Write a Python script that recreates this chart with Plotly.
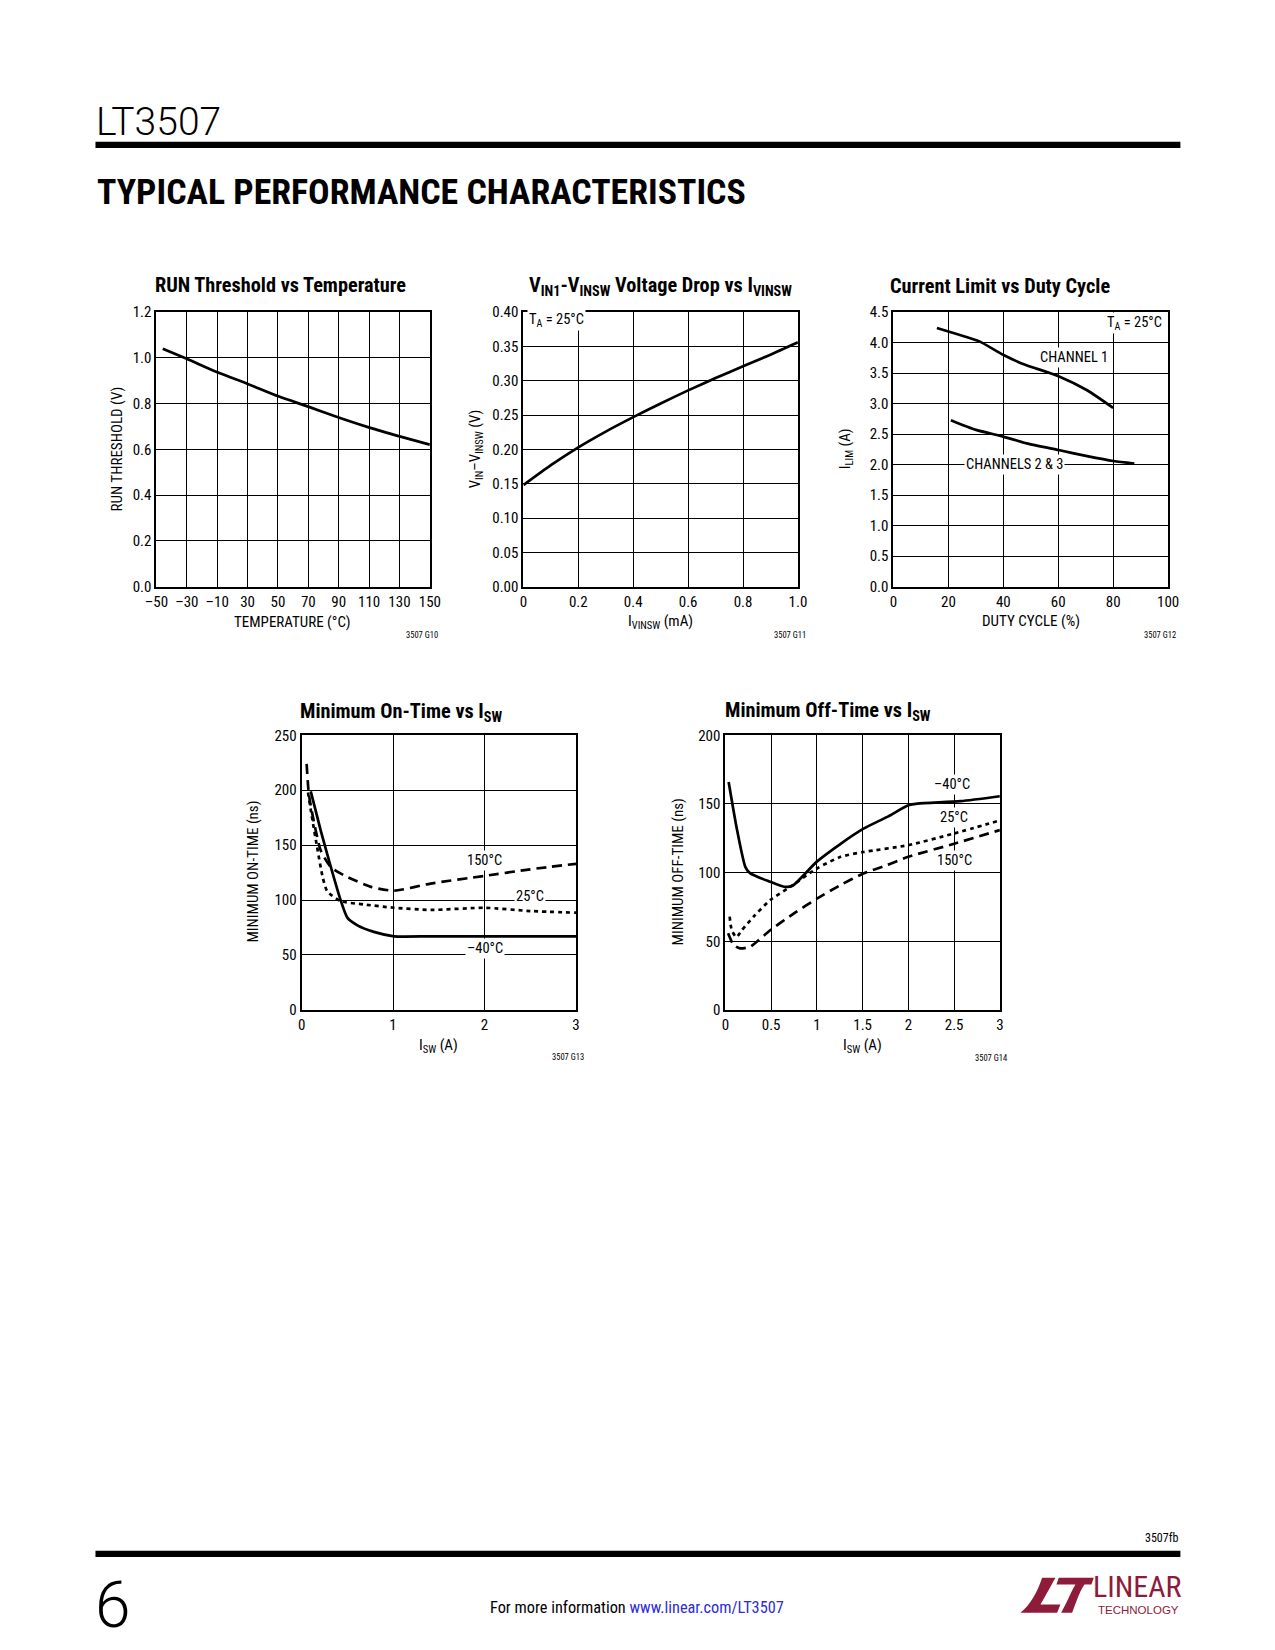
import plotly.graph_objects as go

W, H = 1275, 1650
FONT = "Roboto Condensed, Liberation Sans Narrow, DejaVu Sans Condensed, sans-serif"
RED = "#8E1B3A"

# the photographed page shows the figure slightly inset/scaled; compensate
AX, BX = 0.9823, 11.2
AY, BY = 0.9888, 8.4

def px(x):
    return ((x - BX) / AX) / W

def py(y):
    return 1 - ((y - BY) / AY) / H

# ---------------- data ----------------
# Chart 1: RUN threshold vs temperature
run_temp_labels = ["–50", "–30", "–10", "30", "50", "70", "90", "110", "130", "150"]
run_temp_x = [-45.4, -27.8, -5.4, 16.8, 39.2, 61.0, 83.8, 106.4, 128.6, 150.0]
run_thresh_v = [1.04, 0.996, 0.937, 0.886, 0.832, 0.787, 0.738, 0.694, 0.656, 0.621]

# Chart 2: VIN1-VINSW drop vs IVINSW
ivinsw_ma = [0.0, 0.1, 0.2, 0.3, 0.4, 0.5, 0.6, 0.7, 0.8, 0.9, 1.0]
vdrop_v = [0.148, 0.177, 0.203, 0.226, 0.247, 0.267, 0.286, 0.304, 0.321, 0.338, 0.356]

# Chart 3: current limit vs duty cycle
duty_ch1 = [15.8, 23.0, 31.3, 39.9, 47.2, 60.1, 70.5, 80.0]
ilim_ch1 = [4.24, 4.14, 4.02, 3.80, 3.65, 3.45, 3.22, 2.93]
duty_ch23 = [20.9, 30.1, 39.9, 48.5, 60.1, 70.5, 80.1, 87.7]
ilim_ch23 = [2.73, 2.57, 2.46, 2.35, 2.24, 2.14, 2.06, 2.02]

# Chart 4: minimum on-time vs ISW
on_isw_m40 = [0.10, 0.21, 0.32, 0.43, 0.50, 0.61, 0.79, 1.01, 1.41, 2.0, 3.0]
on_t_m40 = [199, 163, 130, 99, 84, 77, 71, 67, 67, 67, 67]
on_isw_25 = [0.07, 0.12, 0.17, 0.23, 0.28, 0.43, 0.68, 1.01, 1.41, 2.0, 2.5, 3.0]
on_t_25 = [198, 172, 148, 121, 108, 99, 96, 93, 91, 93, 90, 88.5]
on_isw_150 = [0.055, 0.08, 0.14, 0.21, 0.32, 0.50, 0.76, 1.01, 1.41, 2.0, 2.5, 3.0]
on_t_150 = [224, 196, 169, 145, 130, 121, 112, 108.5, 115, 122, 128, 133]

# Chart 5: minimum off-time vs ISW
off_isw_m40 = [0.036, 0.128, 0.219, 0.273, 0.49, 0.64, 0.73, 1.0, 1.26, 1.51, 1.77, 2.0, 2.1, 2.57, 3.0]
off_t_m40 = [166, 131, 104, 99.4, 93.3, 89.7, 90.2, 108, 121, 132, 140.6, 149, 150.3, 152, 155.6]
off_isw_25 = [0.047, 0.07, 0.12, 0.18, 0.31, 0.49, 0.71, 1.0, 1.26, 1.51, 2.0, 2.5, 3.0]
off_t_25 = [67.9, 58, 53, 58, 68, 80, 89.7, 103, 111.5, 115, 120, 128.5, 138]
off_isw_150 = [0.03, 0.09, 0.16, 0.27, 0.49, 0.75, 1.0, 1.26, 1.51, 1.77, 2.0, 2.5, 3.0]
off_t_150 = [55.8, 47.3, 44.8, 46, 58, 70.3, 81, 91, 99.4, 105.5, 111.5, 121, 131]

# ---------------- layout geometry ----------------
# (left, right, top, bottom) in pixels
boxes = {
    1: (155.7, 429.2, 311.4, 586.0),
    2: (522.8, 797.4, 311.4, 586.0),
    3: (893.0, 1167.7, 311.4, 586.0),
    4: (300.9, 575.4, 734.5, 1009.0),
    5: (724.8, 999.4, 734.5, 1009.0),
}

fig = go.Figure()
LW = 2.7

def add_line(i, x, y, dash="solid"):
    fig.add_trace(go.Scatter(
        x=x, y=y, mode="lines", xaxis=f"x{i}", yaxis=f"y{i}",
        line=dict(color="black", width=LW, dash=dash, shape="spline", smoothing=0.6),
        showlegend=False, hoverinfo="skip"))

add_line(1, run_temp_x, run_thresh_v)
add_line(2, ivinsw_ma, vdrop_v)
add_line(3, duty_ch1, ilim_ch1)
add_line(3, duty_ch23, ilim_ch23)
add_line(4, on_isw_m40, on_t_m40)
add_line(4, on_isw_25, on_t_25, dash="4px,4px")
add_line(4, on_isw_150, on_t_150, dash="10px,6px")
add_line(5, off_isw_m40, off_t_m40)
add_line(5, off_isw_25, off_t_25, dash="4px,4px")
add_line(5, off_isw_150, off_t_150, dash="10px,6px")

axis_common = dict(showline=True, mirror=True, linecolor="black", linewidth=2,
                   showgrid=True, gridcolor="black", gridwidth=1, zeroline=False,
                   ticks="", tickfont=dict(family=FONT, size=15, color="black"))

xspecs = {
    1: dict(range=[-50, 150], tickvals=[-50 + k * 200 / 9 for k in range(10)], ticktext=run_temp_labels),
    2: dict(range=[0, 1.0], tickvals=[0, 0.2, 0.4, 0.6, 0.8, 1.0], ticktext=["0", "0.2", "0.4", "0.6", "0.8", "1.0"]),
    3: dict(range=[0, 100], tickvals=[0, 20, 40, 60, 80, 100]),
    4: dict(range=[0, 3], tickvals=[0, 1, 2, 3]),
    5: dict(range=[0, 3], tickvals=[0, 0.5, 1, 1.5, 2, 2.5, 3], ticktext=["0", "0.5", "1", "1.5", "2", "2.5", "3"]),
}
yspecs = {
    1: dict(range=[0, 1.2], tickvals=[0, 0.2, 0.4, 0.6, 0.8, 1.0, 1.2], tickformat=".1f"),
    2: dict(range=[0, 0.40], tickvals=[0, 0.05, 0.10, 0.15, 0.20, 0.25, 0.30, 0.35, 0.40], tickformat=".2f"),
    3: dict(range=[0, 4.5], tickvals=[0, 0.5, 1, 1.5, 2, 2.5, 3, 3.5, 4, 4.5], tickformat=".1f"),
    4: dict(range=[0, 250], tickvals=[0, 50, 100, 150, 200, 250]),
    5: dict(range=[0, 200], tickvals=[0, 50, 100, 150, 200]),
}

layout = {}
for i, (l, r, t, b) in boxes.items():
    xa = dict(axis_common, domain=[px(l), px(r)], anchor=f"y{i}", **xspecs[i])
    ya = dict(axis_common, domain=[py(b), py(t)], anchor=f"x{i}", **yspecs[i])
    layout[f"xaxis{i}"] = xa
    layout[f"yaxis{i}"] = ya

annotations = []

def txt(x, y, text, size=13, xanchor="center", yanchor="middle", angle=0, color="black",
        bold=False, family=FONT, weight=None):
    if bold:
        text = f"<b>{text}</b>"
    f = dict(family=family, size=size, color=color)
    if weight is not None:
        f["weight"] = weight
    a = dict(x=px(x), y=py(y), xref="paper", yref="paper", text=text, showarrow=False,
             xanchor=xanchor, yanchor=yanchor, textangle=angle, font=f)
    annotations.append(a)

def dtxt(i, x, y, text, size=14.5, xanchor="center", bg="white"):
    annotations.append(dict(x=x, y=y, xref=f"x{i}", yref=f"y{i}", text=text, showarrow=False,
                            xanchor=xanchor, yanchor="middle", bgcolor=bg, borderpad=1,
                            font=dict(family=FONT, size=size, color="black")))

# chart titles
TS = 20.3
txt(280, 284, "RUN Threshold vs Temperature", size=TS, bold=True)
txt(660, 285, "V<sub>IN1</sub>-V<sub>INSW</sub> Voltage Drop vs I<sub>VINSW</sub>", size=TS, bold=True)
txt(1000, 285, "Current Limit vs Duty Cycle", size=TS, bold=True)
txt(401, 711, "Minimum On-Time vs I<sub>SW</sub>", size=TS, bold=True)
txt(827, 710, "Minimum Off-Time vs I<sub>SW</sub>", size=TS, bold=True)

# axis titles
AS = 15
txt(116, 448, "RUN THRESHOLD (V)", size=AS, angle=-90)
txt(292, 621, "TEMPERATURE (°C)", size=AS)
txt(475, 448, "V<sub>IN</sub>–V<sub>INSW</sub> (V)", size=AS, angle=-90)
txt(660, 621, "I<sub>VINSW</sub> (mA)", size=AS)
txt(845, 448, "I<sub>LIM</sub> (A)", size=AS, angle=-90)
txt(1031, 620, "DUTY CYCLE (%)", size=AS)
txt(252, 871, "MINIMUM ON-TIME (ns)", size=AS, angle=-90)
txt(438, 1045, "I<sub>SW</sub> (A)", size=AS)
txt(677, 871, "MINIMUM OFF-TIME (ns)", size=AS, angle=-90)
txt(862, 1045, "I<sub>SW</sub> (A)", size=AS)

# figure IDs
IDS = 8.5
txt(421, 634, "3507 G10", size=IDS)
txt(789, 634, "3507 G11", size=IDS)
txt(1160, 634, "3507 G12", size=IDS)
txt(567, 1056, "3507 G13", size=IDS)
txt(991, 1057, "3507 G14", size=IDS)

# in-plot labels
dtxt(2, 0.012, 0.389, "T<sub>A</sub> = 25°C", xanchor="left")
dtxt(3, 98.5, 4.32, "T<sub>A</sub> = 25°C", xanchor="right")
dtxt(3, 65.6, 3.76, "CHANNEL 1")
dtxt(3, 44.2, 2.0, "CHANNELS 2 & 3")
dtxt(4, 2.0, 136, "150°C")
dtxt(4, 2.5, 103, "25°C")
dtxt(4, 2.0, 56, "–40°C")
dtxt(5, 2.48, 164, "–40°C")
dtxt(5, 2.5, 140, "25°C")
dtxt(5, 2.5, 109, "150°C")

# header / footer text
txt(93, 121, "LT3507", size=39, xanchor="left", family="Roboto, DejaVu Sans Condensed, sans-serif", weight=300)
txt(94, 191, "TYPICAL PERFORMANCE CHARACTERISTICS", size=35.8, xanchor="left", bold=True,
    family="Roboto Condensed, DejaVu Sans Condensed, sans-serif")
txt(1180, 1537, "3507fb", size=12, xanchor="right")
txt(92, 1604, "6", size=64, xanchor="left", family="Roboto, DejaVu Sans Condensed, sans-serif", weight=300)
txt(636, 1606, "For more information <span style='color:#2B2BE0'>www.linear.com/LT3507</span>", size=16.3)
txt(1137, 1585, "LINEAR", size=30, color=RED)
txt(1138, 1609, "TECHNOLOGY", size=11.5, color=RED, family="Liberation Sans, Arial, sans-serif")

shapes = [
    dict(type="rect", xref="paper", yref="paper", x0=px(94.7), x1=px(1180), y0=py(147.3), y1=py(141),
         fillcolor="black", line=dict(width=0)),
    dict(type="rect", xref="paper", yref="paper", x0=px(94.7), x1=px(1180), y0=py(1556), y1=py(1549.6),
         fillcolor="black", line=dict(width=0)),
]

# Linear Technology "LT" mark (pixel coordinates built from zoom frame)
def zpt(zx, zy):
    return f"{px(1010 + zx / 3):.5f},{py(1565 + zy / 3):.5f}"

L_path = ("M " + zpt(95, 35) + " L " + zpt(135, 35) + " C " + zpt(115, 70) + " " + zpt(100, 100) + " " + zpt(90, 115)
          + " L " + zpt(150, 115) + " L " + zpt(140, 140) + " L " + zpt(30, 140)
          + " C " + zpt(60, 115) + " " + zpt(80, 80) + " " + zpt(95, 35) + " Z")
T_path = ("M " + zpt(145, 35) + " L " + zpt(250, 35) + " L " + zpt(243, 55) + " L " + zpt(222, 55)
          + " C " + zpt(205, 80) + " " + zpt(195, 115) + " " + zpt(185, 140) + " L " + zpt(152, 140)
          + " C " + zpt(167, 115) + " " + zpt(180, 80) + " " + zpt(195, 55) + " L " + zpt(138, 55) + " Z")
for p in (L_path, T_path):
    shapes.append(dict(type="path", xref="paper", yref="paper", path=p, fillcolor=RED, line=dict(width=0)))

fig.update_layout(
    width=W, height=H, margin=dict(l=0, r=0, t=0, b=0),
    paper_bgcolor="white", plot_bgcolor="white",
    annotations=annotations, shapes=shapes, **layout)

fig.write_html("out.html", config={"displayModeBar": False, "staticPlot": True},
               post_script="document.body.style.margin='0';document.body.style.padding='0';"
                           "document.documentElement.style.overflow='hidden';")
